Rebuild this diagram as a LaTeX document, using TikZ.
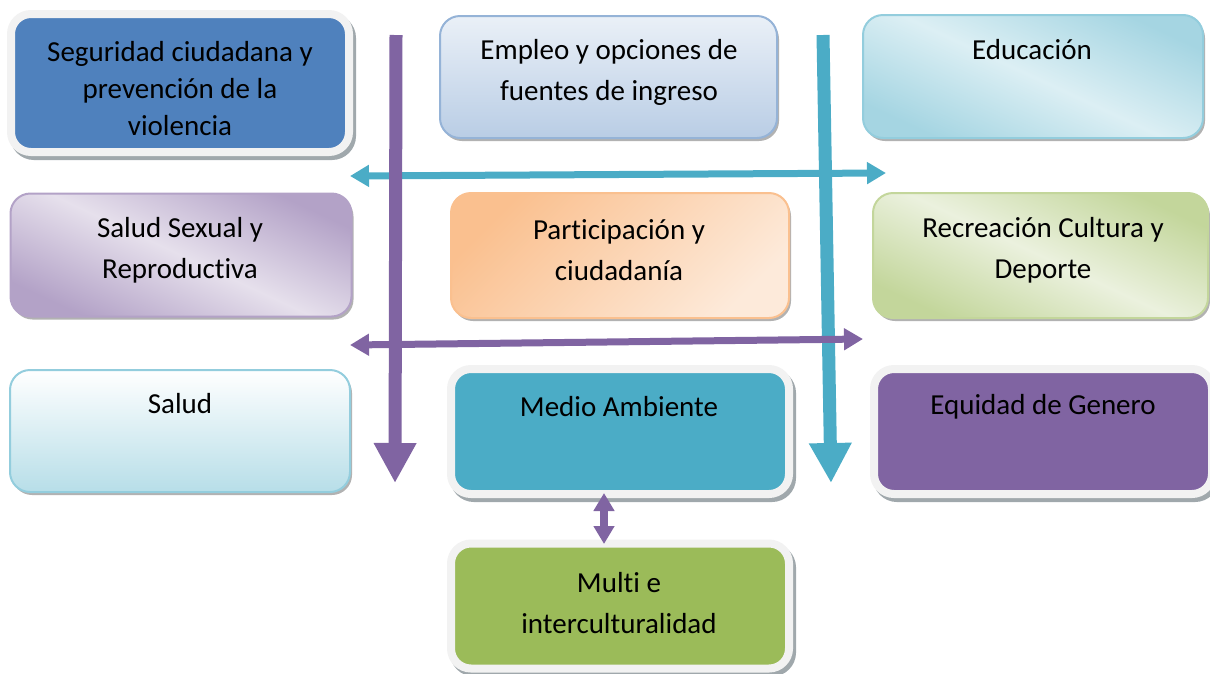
\documentclass[tikz,border=0pt]{standalone}
\usepackage{fontspec}
\setmainfont{Carlito}[Ligatures={NoCommon}]
\usetikzlibrary{arrows.meta,shadows}
\definecolor{cblue}{HTML}{4F81BD}
\definecolor{cteal}{HTML}{4BACC6}
\definecolor{cpurple}{HTML}{8064A2}
\definecolor{cgreen}{HTML}{9BBB59}
\definecolor{framegray}{HTML}{F2F2F2}
\definecolor{shgray}{HTML}{A0A8AC}
\definecolor{empB}{HTML}{B9CDE5}
\definecolor{empD}{HTML}{95B3D7}
\definecolor{eduA}{HTML}{A5D5E2}
\definecolor{eduB}{HTML}{DCEFF4}
\definecolor{eduD}{HTML}{93CDDD}
\definecolor{ssA}{HTML}{B3A2C7}
\definecolor{ssB}{HTML}{E6E0EC}
\definecolor{ssD}{HTML}{B3A2C7}
\definecolor{parA}{HTML}{FAC08F}
\definecolor{parB}{HTML}{FDEADA}
\definecolor{parD}{HTML}{FAC08F}
\definecolor{recA}{HTML}{C3D69B}
\definecolor{recB}{HTML}{EBF1DE}
\definecolor{recD}{HTML}{C3D69B}
\definecolor{salB}{HTML}{B7DEE8}
\definecolor{salD}{HTML}{93CDDD}
\tikzset{
  solidbox/.style={rounded corners=20pt, draw=framegray, line width=8pt, inner sep=0pt,
    minimum width=338pt, minimum height=125pt,
    drop shadow={shadow xshift=3pt, shadow yshift=-4pt, fill=shgray, draw=shgray, line width=8pt, opacity=1}},
  gradbox/.style={rounded corners=20pt, line width=2pt, inner sep=0pt,
    minimum width=339pt, minimum height=123pt,
    drop shadow={shadow xshift=2pt, shadow yshift=-3pt, fill=gray!60, opacity=1}},
  lbl/.style={font=\fontsize{29}{41}\selectfont, align=center, inner sep=0pt, text=black},
  bigarrow/.style={line width=13pt, -{Triangle[width=40pt,length=40pt]}},
  dblarrow/.style={line width=7pt, {Triangle[width=21pt,length=19pt]}-{Triangle[width=21pt,length=19pt]}},
  smallarrow/.style={line width=8pt, {Triangle[width=20pt,length=18pt]}-{Triangle[width=20pt,length=18pt]}}
}
\begin{document}
\begin{tikzpicture}[x=1pt,y=-1pt]
\useasboundingbox (0,0) rectangle (1210,673);
% boxes
\node[solidbox, fill=cblue, minimum height=138pt] (seg) at (180,83) {};
\node[lbl, font=\fontsize{29}{37}\selectfont] (segt) at (180,89) {Seguridad ciudadana y\\prevención de la\\violencia};
\node[gradbox, draw=empD, top color=white!70!empB, bottom color=empB, minimum width=337pt, minimum height=122pt] (emp) at (608.5,77) {};
\node[lbl] (empt) at (609,72.5) {Empleo y opciones de\\fuentes de ingreso};
\node[gradbox, draw=eduD, left color=eduA, right color=eduA, middle color=eduB, shading angle=155, minimum width=340pt] (edu) at (1033,76.5) {};
\node[lbl] (edut) at (1032,50) {Educación};
\node[gradbox, draw=ssD, left color=ssA, right color=ssA, middle color=ssB, shading angle=155, minimum width=341pt] (ss) at (181,255) {};
\node[lbl] (sst) at (180,250) {Salud Sexual y\\Reproductiva};
\node[gradbox, draw=parD, left color=parA, right color=parB, shading angle=45, minimum width=338pt, minimum height=125pt] (par) at (620,255.5) {};
\node[lbl] (part) at (619,250) {Participación y\\ciudadanía};
\node[gradbox, draw=recD, left color=recA, right color=recA, middle color=recB, shading angle=155, minimum width=335pt, minimum height=125pt] (rec) at (1040.5,255.5) {};
\node[lbl] (rect) at (1043,250) {Recreación Cultura y\\Deporte};
\node[gradbox, draw=salD, top color=white, bottom color=salB, minimum width=340pt, minimum height=122pt] (sal) at (180,431) {};
\node[lbl] (salt) at (180,404) {Salud};
\node[solidbox, fill=cteal] (med) at (620,431.5) {};
\node[lbl] (medt) at (619,407) {Medio Ambiente};
\node[solidbox, fill=cpurple] (equ) at (1043,431.5) {};
\node[lbl] (equt) at (1043,407) {Equidad de Genero};
\node[solidbox, fill=cgreen] (mul) at (620,606) {};
\node[lbl] (mult) at (619,603) {Multi e\\interculturalidad};
% arrow end points
\coordinate (th1) at (350,176);
\coordinate (th2) at (886,173);
\coordinate (pv1) at (396,35);
\coordinate (pv2) at (395,483);
\coordinate (tv1) at (823,35);
\coordinate (tv2) at (831,483);
\coordinate (ph1) at (350,345);
\coordinate (ph2) at (863,339);
\coordinate (sm1) at (604,493);
\coordinate (sm2) at (604,544);
% arrows
\draw[dblarrow, cteal] (th1) -- (th2);
\draw[bigarrow, cpurple] (pv1) -- (pv2);
\draw[bigarrow, cteal] (tv1) -- (tv2);
\draw[dblarrow, cpurple] (ph1) -- (ph2);
\draw[smallarrow, cpurple] (sm1) -- (sm2);
\end{tikzpicture}
\end{document}
